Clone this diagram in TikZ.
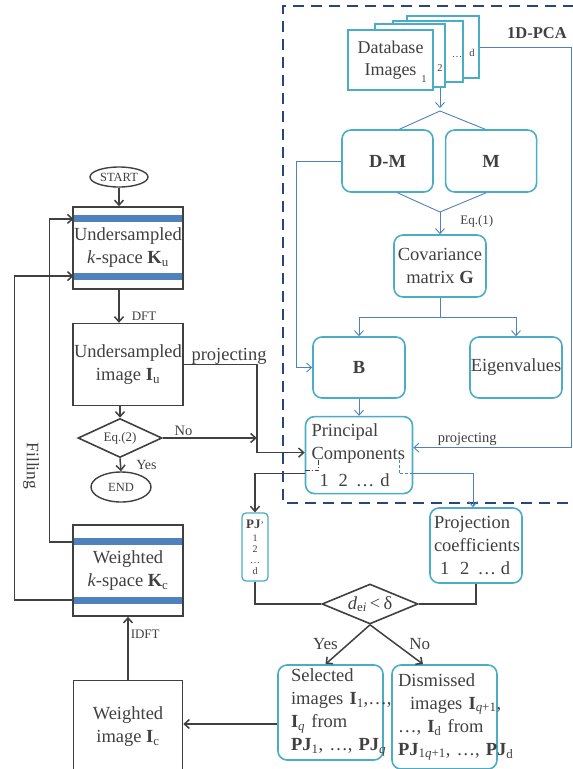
\documentclass[tikz,border=0pt]{standalone}
\usepackage{fontspec}
\setmainfont{Liberation Serif}
\usetikzlibrary{positioning, arrows.meta, shapes.geometric}
\definecolor{txtgray}{RGB}{64,64,64}
\definecolor{tealbox}{RGB}{75,172,198}
\definecolor{kbar}{RGB}{79,129,189}
\definecolor{pcaline}{RGB}{79,129,189}
\definecolor{framecol}{RGB}{40,70,122}

\begin{document}
\fontsize{18.5}{23}\selectfont
\begin{tikzpicture}[
  x=1pt, y=-1pt, text=txtgray,
  sbox/.style={draw=txtgray, line width=1.6pt, inner sep=0pt, align=center,
               minimum width=110pt},
  band/.style={fill=kbar, inner sep=0pt, minimum width=108.5pt, minimum height=7pt},
  rbox/.style={draw=tealbox, line width=1.6pt, rounded corners=9pt, inner sep=0pt,
               align=center},
  page/.style={draw=tealbox, line width=1.6pt, fill=white, inner sep=0pt},
  term/.style={ellipse, draw=txtgray, line width=1.4pt, inner sep=0pt,
               font=\fontsize{12.5}{14}\selectfont},
  cond/.style={diamond, draw=txtgray, line width=1.6pt, inner sep=0pt},
  lab/.style={font=\fontsize{13}{15}\selectfont, inner sep=1pt},
  tiny/.style={font=\fontsize{10.5}{12}\selectfont, inner sep=0pt},
  blk/.style={-{Straight Barb[length=5pt, width=9pt]}, line width=1.5pt, draw=txtgray},
  bline/.style={line width=0.9pt, draw=pcaline},
  blu/.style={bline, -{Straight Barb[length=5pt, width=9pt]}},
  dashframe/.style={dash pattern=on 11pt off 7pt, line width=2.2pt, draw=framecol}
]
\useasboundingbox (0,0) rectangle (573,769);
\clip (0,0) rectangle (573,769);

% reconstruction loop
\node[term, minimum width=58pt, minimum height=20pt] (start) at (119,177) {START};
\node[sbox, minimum height=82pt] (ku) at (128,248) {Undersampled\\\textit{k}-space \textbf{K}\textsubscript{u}};
\node[band, below=9pt of ku.north] (kutop) {};
\node[band, above=10pt of ku.south] (kubot) {};
\node[sbox, minimum height=82pt, below=33pt of ku] (iu) {Undersampled\\image \textbf{I}\textsubscript{u}};
\node[cond, aspect=2.2, minimum width=84pt, minimum height=39pt,
      font=\fontsize{13}{15}\selectfont] (eq2) at (120,438) {Eq.(2)};
\node[term, minimum width=60pt, minimum height=30pt] (end) at (121,487) {END};
\node[sbox, minimum height=91pt] (kc) at (128,570.5) {Weighted\\\textit{k}-space \textbf{K}\textsubscript{c}};
\node[band, below=14pt of kc.north] (kctop) {};
\node[band, above=13pt of kc.south] (kcbot) {};
\node[sbox, minimum width=109pt, minimum height=92pt, below=63pt of kc] (ic) {Weighted\\image \textbf{I}\textsubscript{c}};
\node[rotate=-90, font=\fontsize{17.5}{20}\selectfont] (filllab) at (31,466) {Filling};

% 1D-PCA
\draw[dashframe] (610,6) -- (283,6) -- (283,503) -- (610,503);
\node[font=\bfseries\fontsize{16.5}{18}\selectfont] (pcalab) at (537,33) {1D-PCA};
\node[page, minimum width=72pt, minimum height=62pt] (pgd) at (443,47) {};
\node[page, minimum width=70pt, minimum height=61pt] (pg3) at (428,51.5) {};
\node[page, minimum width=70pt, minimum height=63pt] (pg2) at (410,55.5) {};
\node[page, minimum width=85pt, minimum height=60pt, align=center,
      font=\fontsize{18}{22}\selectfont] (db) at (390.5,60) {Database\\Images};
\node[tiny] (nd) at (472,53) {d};
\node[tiny] (n3) at (457,57) {…};
\node[tiny] (n2) at (440,68) {2};
\node[tiny] (n1) at (424,79) {1};
\node[rbox, minimum width=91pt, minimum height=62pt, font=\bfseries] (dm) at (387.5,161) {D-M};
\node[rbox, minimum width=91pt, minimum height=62pt, font=\bfseries, right=11pt of dm] (mm) {M};
\node[rbox, minimum width=92pt, minimum height=62pt] (cov) at (440,266) {Covariance\\matrix \textbf{G}};
\node[rbox, minimum width=92pt, minimum height=61pt, font=\bfseries] (b) at (359,367.5) {B};
\node[rbox, minimum width=92pt, minimum height=61pt] (eig) at (516,367.5) {Eigenvalues};
\node[rbox, minimum width=107pt, minimum height=77pt, below=17pt of b, align=left,
      text width=95pt, inner xsep=6pt] (pc)
  {Principal\\Components\\[4pt]\hspace*{8pt}1\hspace{10pt}2\hspace{8pt}…\hspace{6pt}d};

% selection
\node[rbox, rounded corners=4pt, line width=1.3pt, minimum width=26pt, minimum height=68pt,
      font=\fontsize{10}{11}\selectfont] (pj) at (255,547)
  {{\bfseries\fontsize{13}{13}\selectfont PJ}’\\[2pt]1\\2\\…\\d};
\node[rbox, minimum width=92pt, minimum height=75pt, align=left, text width=84pt,
      inner xsep=4pt] (coef) at (476,545.5)
  {Projection\\coefficients\\\hspace*{6pt}1\hspace{11pt}2\hspace{8pt}…\hspace{5pt}d};
\node[cond, aspect=2.4, minimum width=96pt, minimum height=40pt] (dei) at (370,604)
  {\textit{d}\textsubscript{e\textit{i}}\,<\,δ};
\node[rbox, minimum width=105pt, minimum height=95pt, align=left, text width=79pt,
      inner xsep=13pt] (sel) at (330.5,712.5)
  {Selected\\\mbox{images \textbf{I}\textsubscript{1},…,}\\\mbox{\textbf{I}\textsubscript{\textit{q}} from}\\
   \mbox{\textbf{PJ}\textsubscript{1}, …, \textbf{PJ}\textsubscript{\textit{q}}}};
\node[rbox, minimum width=105pt, minimum height=104pt, align=left, text width=93pt,
      inner xsep=6pt] (dis) at (444.5,717)
  {Dismissed\\\mbox{\hspace*{12pt}images \textbf{I}\textsubscript{\textit{q}+1},}\\
   \mbox{…, \textbf{I}\textsubscript{d} from}\\
   \mbox{\textbf{PJ}\textsubscript{1\textit{q}+1}, …, \textbf{PJ}\textsubscript{d}}};

% loop connectors
\draw[blk] (start) -- (ku.north -| start);
\draw[blk] (ku.south -| start) -- (iu.north -| start) node[lab, pos=0.8, right=11pt] (dft) {DFT};
\draw[blk] (iu.south -| eq2) -- (eq2.north);
\draw[blk] (eq2.south) -- (end.north) node[lab, midway, right=14pt, font=\fontsize{14}{16}\selectfont] (yes2) {Yes};
\draw[blk] (iu.east) -- node[pos=0.62, anchor=base, yshift=4pt, inner sep=0pt] (proj1) {projecting}
  ++(73,0) coordinate (tap) |- ([yshift=2.5pt]pc.west);
\draw[blk] (eq2.east) -- (eq2.east -| tap) node[lab, pos=0.22, above=1pt, font=\fontsize{14.5}{16}\selectfont] (no2) {No};
\draw[blk] (kctop.west) -- ++(-24,0) |- (kutop.west);
\draw[blk] (kcbot.west) -- ++(-59,0) |- (kubot.west);
\draw[blk] (ic) -- (kc) node[lab, pos=0.73, right=1pt] (idft) {IDFT};
\draw[blk] ([yshift=-11.5pt]sel.west) coordinate (selout) -- (ic.east |- selout);

% PCA connectors
\coordinate (split) at (440,111);
\coordinate (merge) at (440,212);
\draw[blu] (pg2.south -| split) -- ([yshift=3pt]split);
\draw[bline] ([xshift=12pt]dm.north) -- (split) -- ([xshift=-6pt]mm.north);
\draw[bline] ([xshift=10pt]dm.south) -- (merge) -- ([xshift=-5pt]mm.south);
\draw[blu] (merge) -- (cov.north) node[lab, pos=0.43, right=19pt] (eq1) {Eq.(1)};
\draw[blu] (dm.west) -- ++(-45,0) |- (b.west);
\draw[bline] (cov.south) -- ++(0,20) coordinate (fork);
\draw[blu] (fork) -| (b.north);
\draw[blu] (fork) -| (eig.north);
\draw[blu] (b) -- (pc);
\draw[blu] (pgd.east) -- ++(92,0) |- ([yshift=7.5pt]pc.east)
  node[lab, pos=0.83, above=1pt, font=\fontsize{14.5}{16}\selectfont] (proj2) {projecting};
\draw[draw=txtgray, line width=0.8pt, dash pattern=on 5pt off 2pt on 1pt off 2pt]
  ([yshift=-15.5pt]pc.west) -- ++(14,0) -- ++(0,-13);
\draw[bline, line width=0.8pt, dash pattern=on 3pt off 2pt]
  ([yshift=-18.5pt]pc.east) -- ++(-14,0) -- ++(0,-17);
\draw[blk] ([yshift=-18.5pt]pc.west) -| (pj.north);
\draw[blu] ([yshift=-18.5pt]pc.east) -| ([xshift=-3pt]coef.north);

% decision
\draw[blk, -] (pj.south) |- (dei.west);
\draw[blk, -] (coef.south) |- (dei.east);
\draw[blk] (dei.south) -- ([xshift=-5pt]sel.north)
  node[midway, left=3pt, font=\fontsize{17}{19}\selectfont] (yes1) {Yes};
\draw[blk] (dei.south) -- ([xshift=-21.5pt]dis.north)
  node[midway, right=6pt, font=\fontsize{17}{19}\selectfont] (no1) {No};
\end{tikzpicture}
\end{document}
